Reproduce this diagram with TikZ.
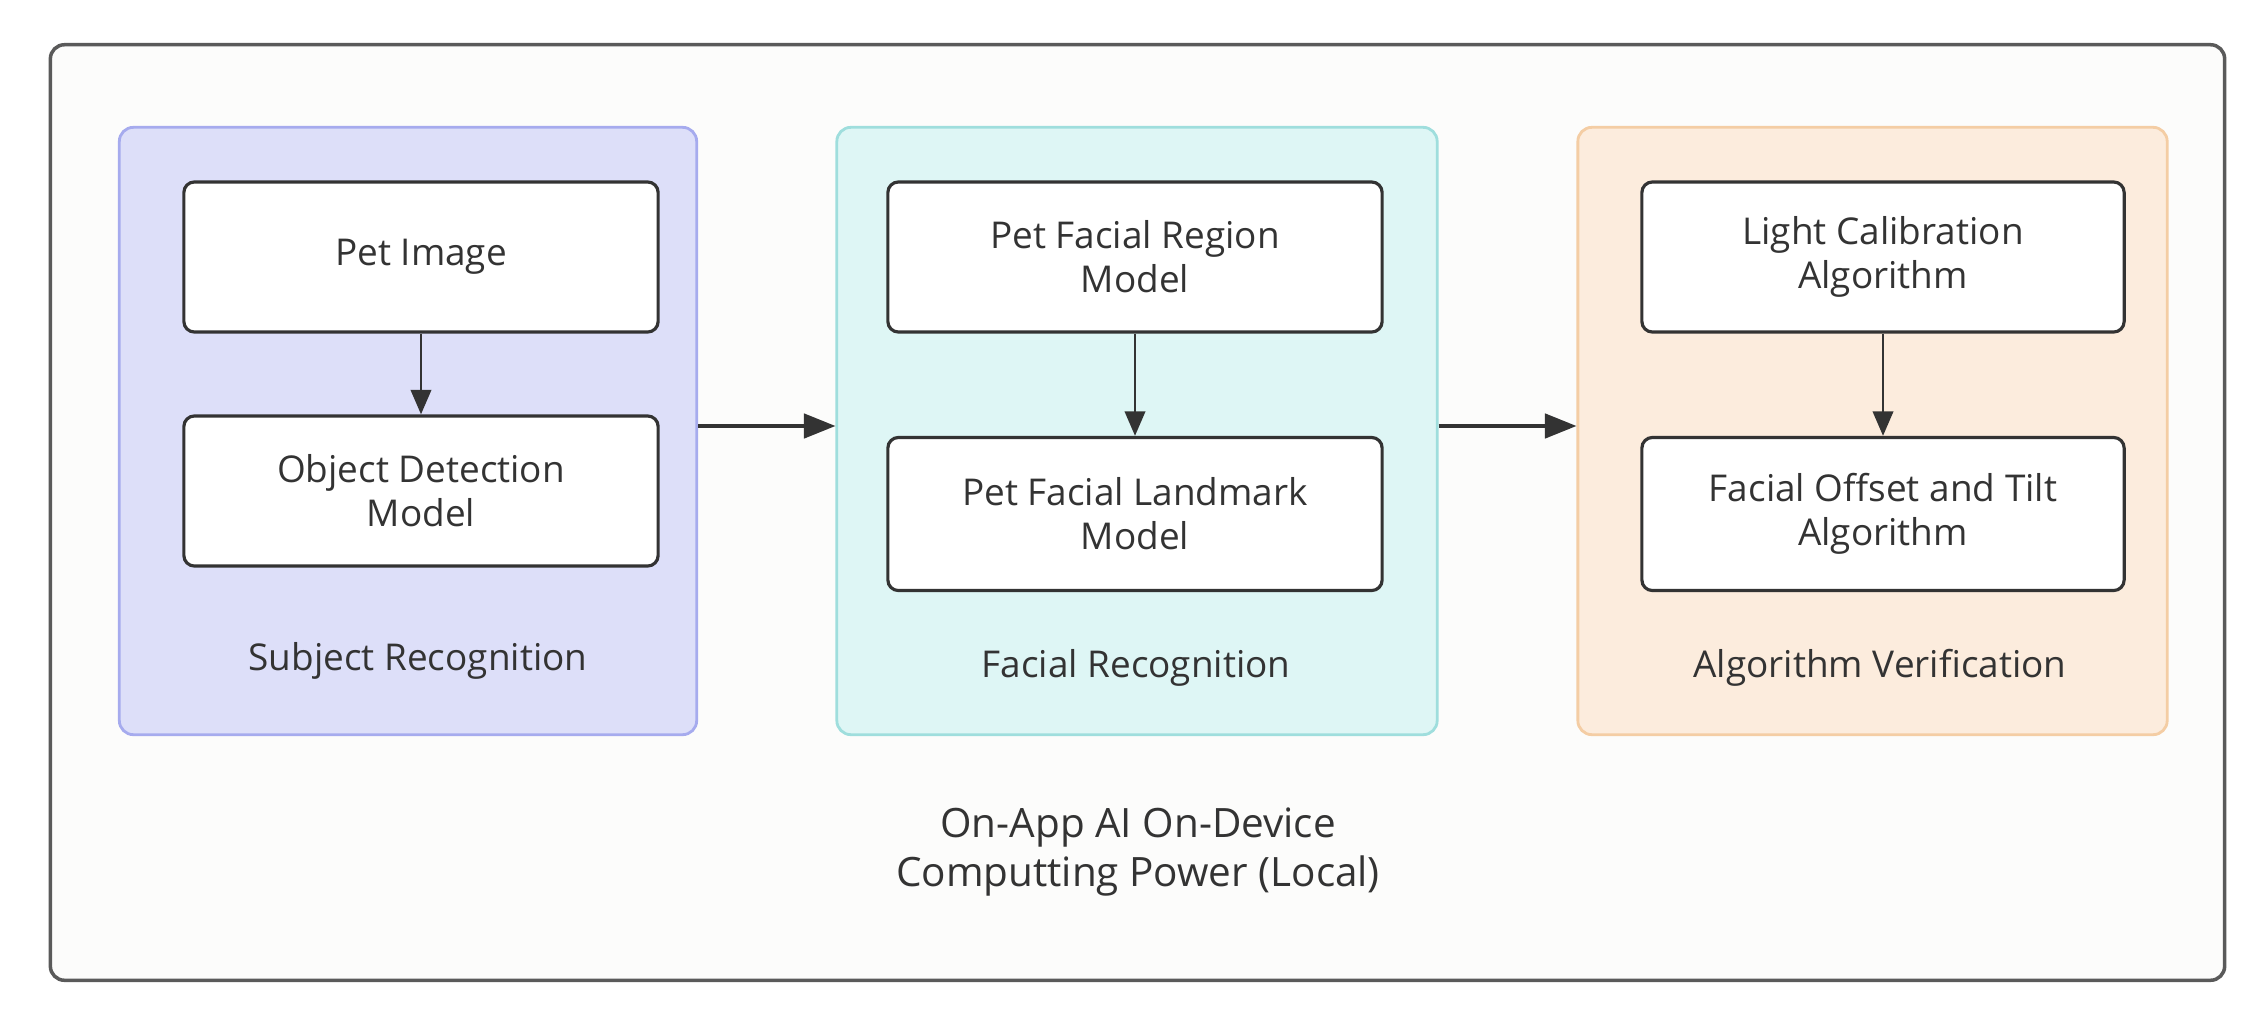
\documentclass[tikz,border=0pt]{standalone}
\usepackage{fontspec}
\setmainfont{Open Sans}
\usetikzlibrary{arrows.meta}
\definecolor{inkgray}{HTML}{333333}
\definecolor{framegray}{HTML}{5A5A5A}
\definecolor{devicefill}{HTML}{FCFCFB}
\definecolor{subjfill}{HTML}{DDDFF9}
\definecolor{subjline}{HTML}{A6ABEE}
\definecolor{facefill}{HTML}{DEF6F5}
\definecolor{faceline}{HTML}{9FDEDD}
\definecolor{verifill}{HTML}{FCECDD}
\definecolor{veriline}{HTML}{F4CDA4}

\begin{document}
\begin{tikzpicture}[x=0.01cm, y=-0.01cm,
        font=\fontsize{10.5}{12.5}\selectfont, text=inkgray,
        device/.style={draw=framegray, fill=devicefill, line width=1pt, rounded corners=4pt,
            minimum width=21.73cm, minimum height=9.35cm, inner sep=0pt},
        group/.style={line width=0.8pt, rounded corners=4pt, minimum height=6.07cm, inner sep=0pt},
        model/.style={draw=inkgray, fill=white, line width=0.9pt, rounded corners=3pt,
            minimum height=1.5cm, align=center, inner sep=0pt},
        flow/.style={draw=inkgray, line width=0.9pt, -{Triangle[length=9pt, width=7pt]}},
        substep/.style={draw=inkgray, line width=0.8pt, -{Triangle[length=7pt, width=5.8pt]}}]

        \useasboundingbox (0,0) rectangle (2267,1024);

        \node[device] (device) at (1137.5,512.5) {};

        \node[group, fill=subjfill, draw=subjline, minimum width=5.77cm] (subj) at (408,431) {};
        \node[group, fill=facefill, draw=faceline, minimum width=6.00cm] (face) at (1137,431) {};
        \node[group, fill=verifill, draw=veriline, minimum width=5.89cm] (veri) at (1872.5,431) {};

        \node[model, minimum width=4.74cm] (pet) at (421,257) {Pet Image};
        \node[model, minimum width=4.74cm] (objdet) at (421,491) {Object Detection\\Model};
        \node[model, minimum width=4.94cm] (region) at (1135,257) {Pet Facial Region\\Model};
        \node[model, minimum width=4.94cm, minimum height=1.53cm] (landmark) at (1135,514) {Pet Facial Landmark\\Model};
        \node[model, minimum width=4.82cm] (light) at (1883,257) {Light Calibration\\Algorithm};
        \node[model, minimum width=4.82cm, minimum height=1.53cm] (tilt) at (1883,514) {Facial Offset and Tilt\\Algorithm};

        \node (subjlabel) at (418,661) {Subject Recognition};
        \node (facelabel) at (1136,668) {Facial Recognition};
        \node (verilabel) at (1880,668) {Algorithm Verification};

        \node[font=\fontsize{11.5}{14}\selectfont, align=center] (devicelabel) at (1138,852)
            {On-App AI On-Device\\Computting Power (Local)};

        \draw[substep] (pet) -- (objdet);
        \draw[substep] (region) -- (landmark);
        \draw[substep] (light) -- (tilt);
        \draw[flow] ([yshift=0.05cm]subj.east) -- ([yshift=0.05cm]face.west);
        \draw[flow] ([yshift=0.05cm]face.east) -- ([yshift=0.05cm]veri.west);
    \end{tikzpicture}
\end{document}
